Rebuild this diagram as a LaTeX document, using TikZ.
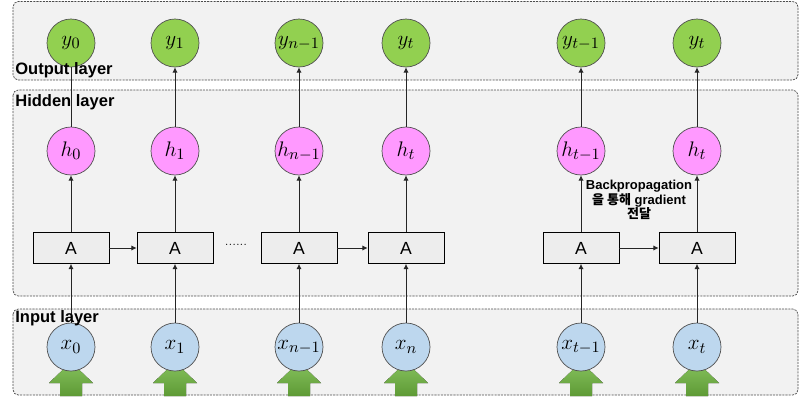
\documentclass[tikz,border=0pt]{standalone}
\usepackage{fontspec}
\setsansfont{Liberation Sans}
\newfontfamily\kofont{Noto Sans CJK KR}
\usepackage{tikz}
\usetikzlibrary{arrows.meta}
\usetikzlibrary{shapes}
\definecolor{outgreen}{HTML}{92D050}
\definecolor{hidpink}{HTML}{FF99FF}
\definecolor{inblue}{HTML}{BDD7EE}
\definecolor{layergray}{HTML}{F2F2F2}
\definecolor{cellgray}{HTML}{EDEDED}
\definecolor{ringgray}{HTML}{505050}
\definecolor{arrowtop}{HTML}{86C25E}
\definecolor{arrowbot}{HTML}{5E9A35}

\begin{document}
\begin{tikzpicture}[x=0.02cm, y=-0.02cm,
    layerbox/.style={draw=black!70, fill=layergray, dash pattern=on 1.2pt off 0.6pt, rounded corners=3pt},
    layername/.style={anchor=base west, inner sep=0pt, font=\sffamily\bfseries\fontsize{9.4}{11}\selectfont},
    unit/.style={circle, draw=ringgray, minimum size=0.96cm, inner sep=0pt, font=\fontsize{12.5}{14}\selectfont},
    outnode/.style={unit, fill=outgreen},
    hidnode/.style={unit, fill=hidpink},
    innode/.style={unit, fill=inblue},
    cellbox/.style={draw=black, fill=cellgray, minimum width=1.52cm, minimum height=0.62cm, inner sep=0pt, font=\sffamily\fontsize{10}{12}\selectfont},
    conn/.style={line width=0.5pt, draw=black!85, -{Latex[length=3pt,width=3pt]}},
    bareconn/.style={line width=0.5pt, draw=black!85}]
  \useasboundingbox (0,0) rectangle (800,403);
  \draw[layerbox] (13,1.5) rectangle (798,80);
  \draw[layerbox] (13,90) rectangle (798,296);
  \draw[layerbox] (13,309) rectangle (798,395);
  \foreach \c in {71,175,299,406,581,697}
    \fill[top color=arrowtop, bottom color=arrowbot] (\c,362) -- (\c+22,383) -- (\c+11,383) -- (\c+11,396)
      -- (\c-11,396) -- (\c-11,383) -- (\c-22,383) -- cycle;
  \foreach \c/\s/\r [count=\i] in {71/0/0, 175/1/1, 299/{n-1}/{n-1}, 406/t/n, 581/{t-1}/{t-1}, 697/t/t} {
    \node[outnode] (y\i) at (\c,43) {$y_{\s}$};
    \node[hidnode] (h\i) at (\c,151) {$h_{\s}$};
    \node[cellbox] (A\i) at (\c,248) {A};
    \node[innode] (x\i) at (\c,347) {$x_{\r}$};
    \draw[conn] (x\i) -- (A\i);
    \draw[conn] (A\i) -- (h\i);
    \ifnum\i=1
      \draw[bareconn] (h\i) -- (y\i);
    \else
      \draw[conn] (h\i) -- (y\i);
    \fi
  }
  \draw[conn] (A1) -- (A2);
  \draw[conn] (A3) -- (A4);
  \draw[conn] (A5) -- (A6);
  \node[font=\fontsize{6}{6}\selectfont] (dots) at (236,245) {......};
  \node[layername] (outlabel) at (15,74) {Output layer};
  \node[layername] (hidlabel) at (15,106) {Hidden layer};
  \node[layername] (inlabel) at (15,322) {Input layer};
  \node[align=center, inner sep=0pt, font=\sffamily\bfseries\fontsize{7.4}{8.3}\selectfont] (backprop) at (639,200)
    {Backpropagation\\{\kofont 을 통해} gradient\\{\kofont 전달}};
\end{tikzpicture}
\end{document}
